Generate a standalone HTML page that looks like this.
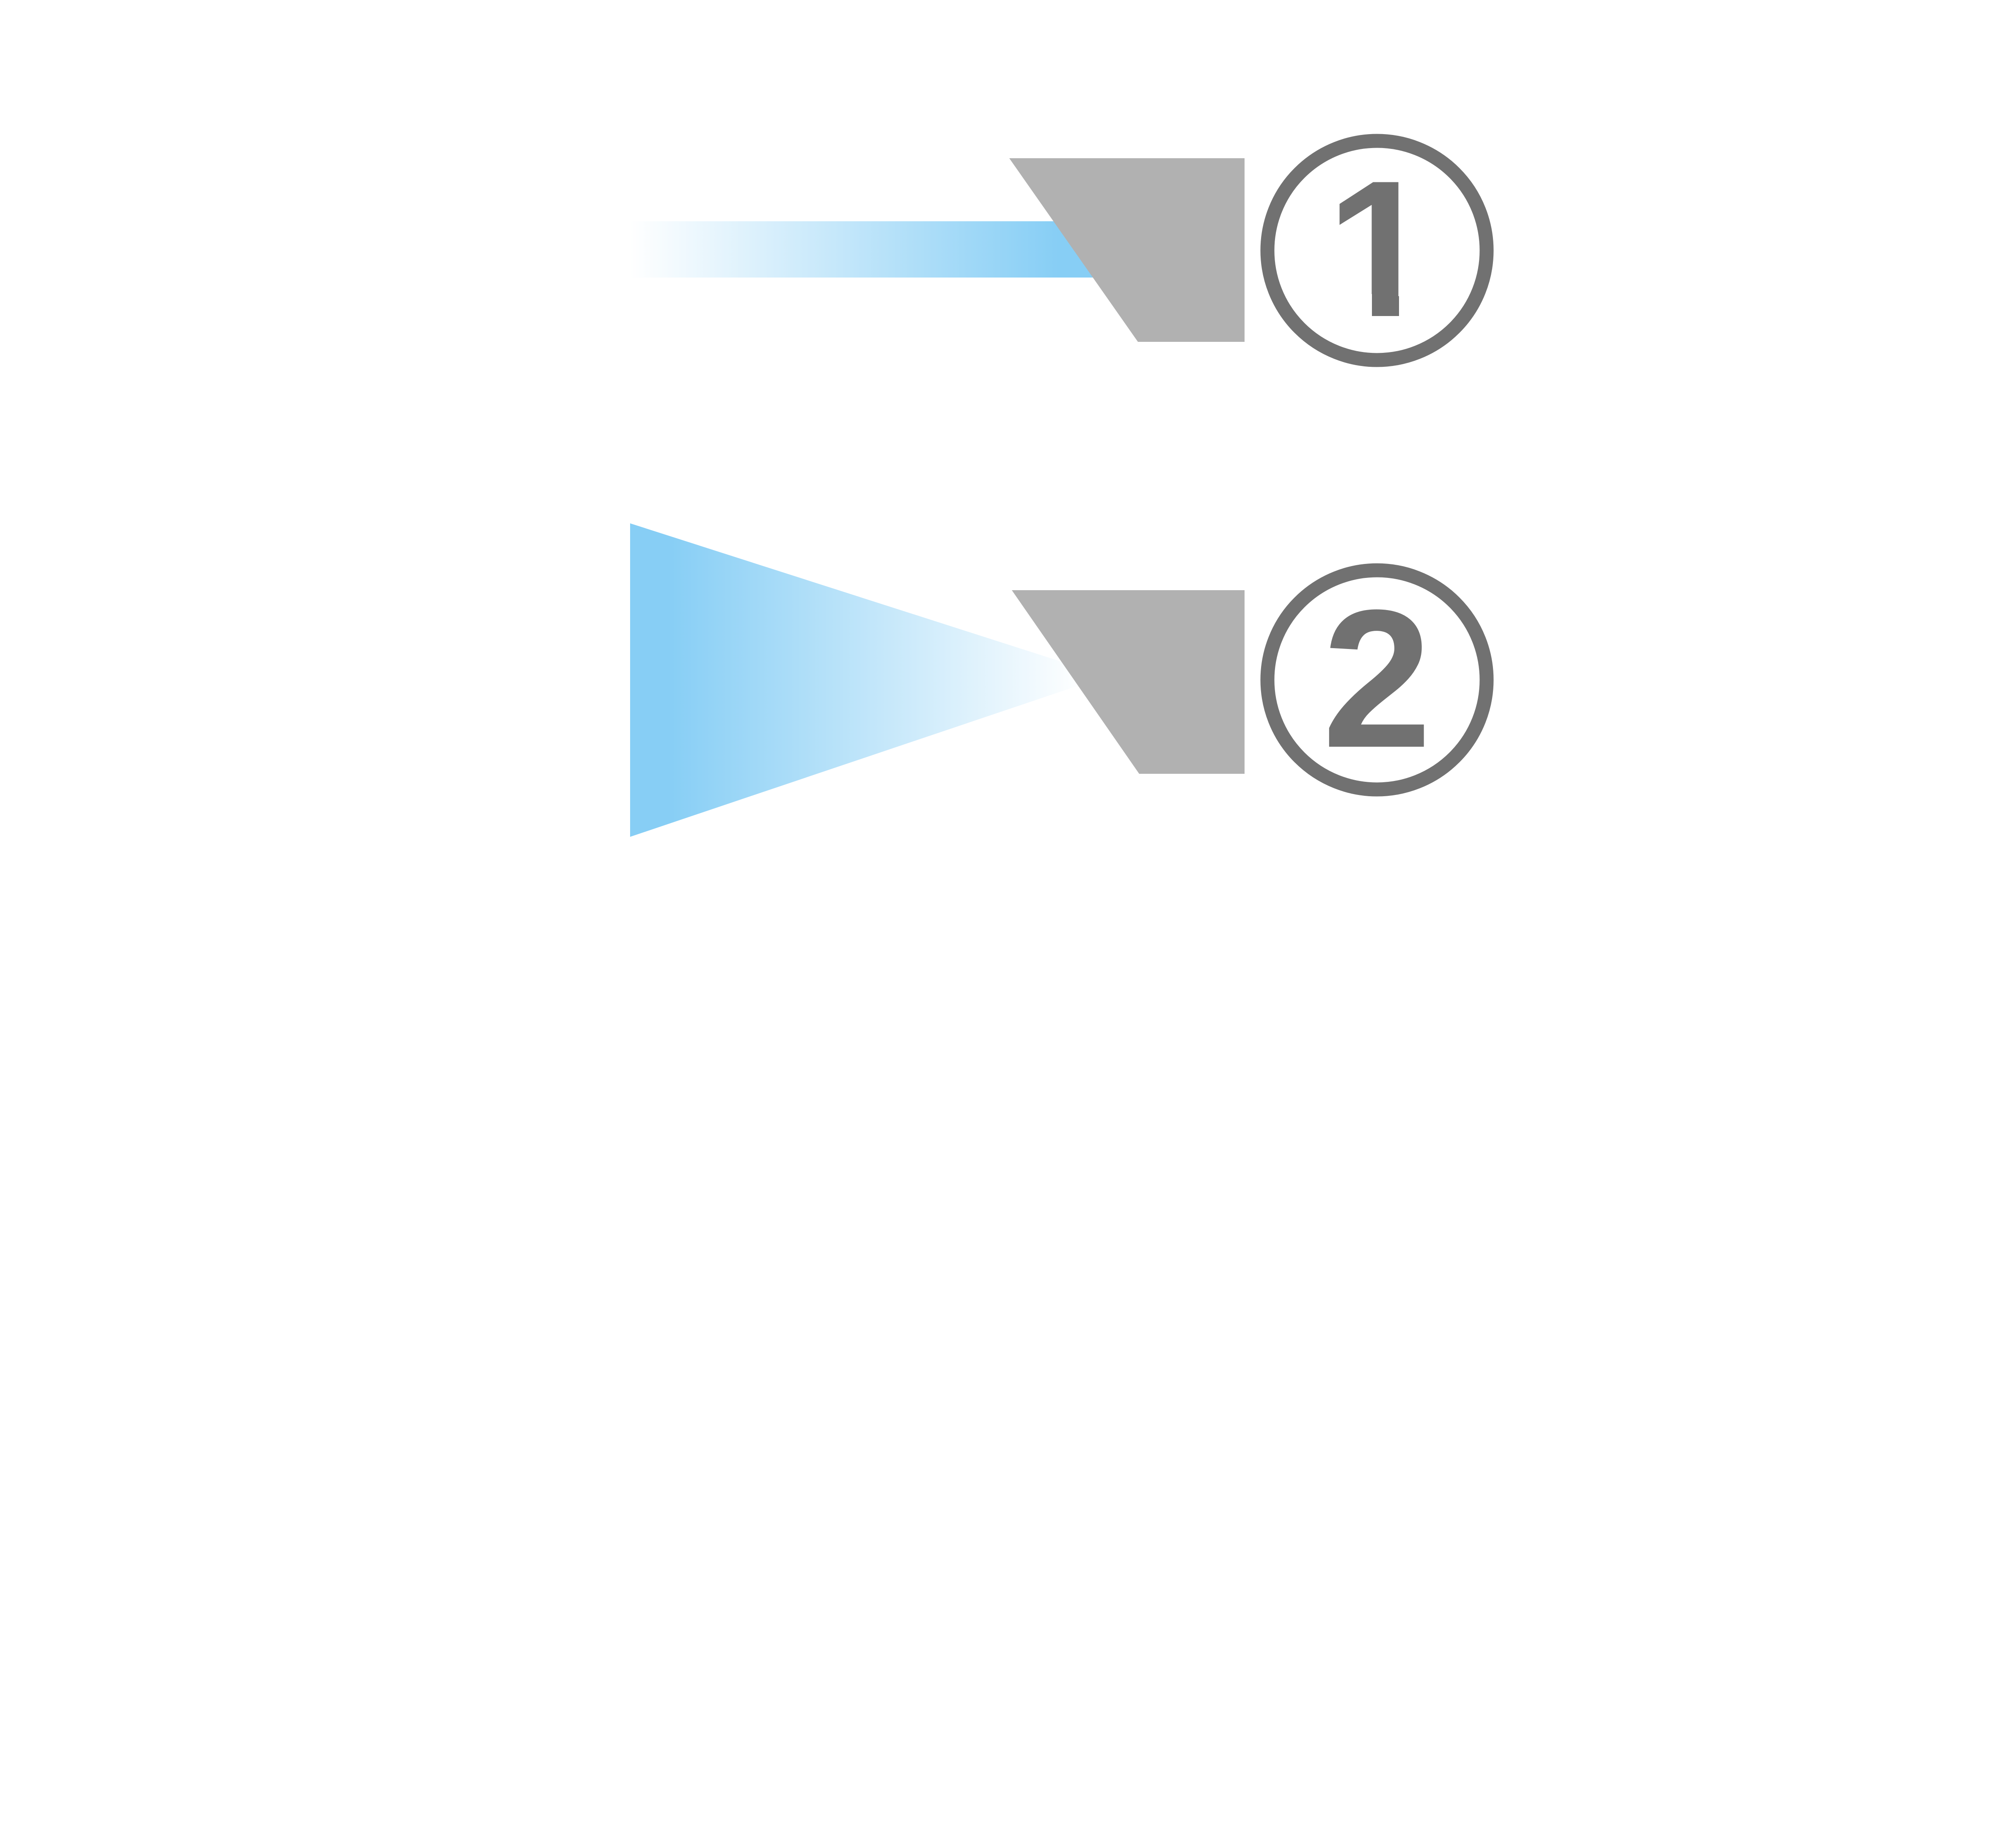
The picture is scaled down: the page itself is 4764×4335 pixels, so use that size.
<!DOCTYPE html>
<html><head><style>html,body{margin:0;padding:0;background:#fff}svg{display:block}</style></head>
<body>
<svg width="4764" height="4335" viewBox="0 0 4764 4335" xmlns="http://www.w3.org/2000/svg">
<defs>
<linearGradient id="g1" gradientUnits="userSpaceOnUse" x1="1489" y1="0" x2="2500" y2="0">
<stop offset="0" stop-color="#ffffff"/><stop offset="1" stop-color="#87cef5"/></linearGradient>
<linearGradient id="g2" gradientUnits="userSpaceOnUse" x1="1580" y1="0" x2="2560" y2="0">
<stop offset="0" stop-color="#87cef5"/><stop offset="1" stop-color="#ffffff"/></linearGradient>
</defs>
<rect x="1489" y="523" width="1150" height="133" fill="url(#g1)"/>
<polygon points="2385,374 2941,374 2941,808 2689,808" fill="#b1b1b1"/>
<circle cx="3254" cy="592" r="259" fill="none" stroke="#717171" stroke-width="33"/>
<text x="3262" y="747" font-family="Liberation Sans, sans-serif" font-size="460" font-weight="bold" fill="#717171" text-anchor="middle">1</text>
<rect x="3140" y="695" width="102" height="60" fill="#fff"/>
<rect x="3306" y="695" width="85" height="60" fill="#fff"/>
<polygon points="1489,1237 2552,1578 2580,1610 1489,1978" fill="url(#g2)"/>
<polygon points="2391,1395 2941,1395 2941,1829 2692,1829" fill="#b1b1b1"/>
<circle cx="3254" cy="1607" r="259" fill="none" stroke="#717171" stroke-width="33"/>
<text x="3254" y="1765" font-family="Liberation Sans, sans-serif" font-size="465" font-weight="bold" fill="#717171" text-anchor="middle">2</text>
</svg>
</body></html>
